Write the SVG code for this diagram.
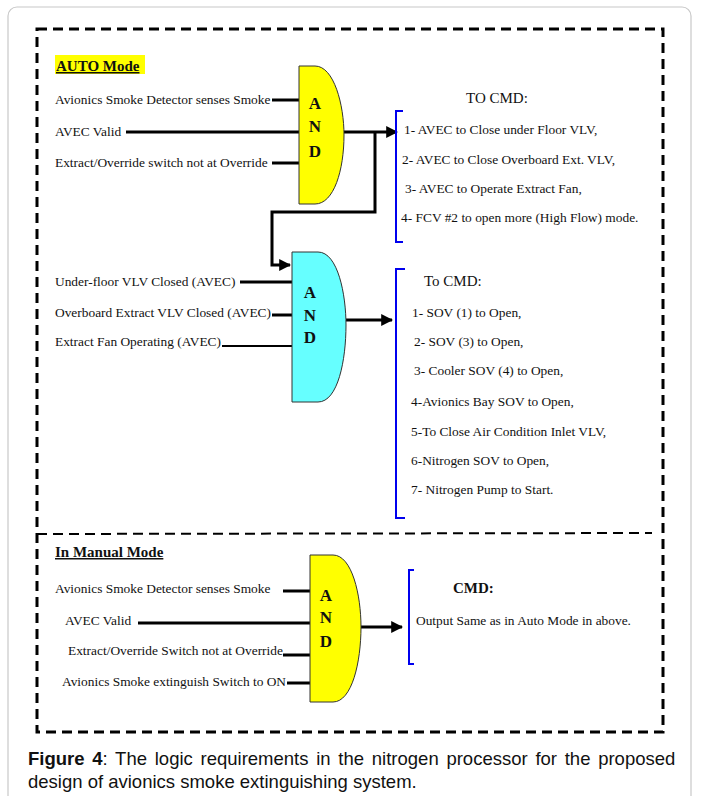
<svg xmlns="http://www.w3.org/2000/svg" width="702" height="796" viewBox="0 0 702 796">
<defs>
<style>
.t{font-family:"Liberation Serif","Times New Roman",serif;font-size:13.4px;fill:#111}
.h{font-family:"Liberation Serif","Times New Roman",serif;font-size:15px;font-weight:bold;fill:#111;text-decoration:underline}
.c{font-family:"Liberation Serif","Times New Roman",serif;font-size:15px;fill:#111}
.g{font-family:"Liberation Serif","Times New Roman",serif;font-size:17px;font-weight:bold;fill:#111;text-anchor:middle}
.w{stroke:#000;stroke-width:3;fill:none}
.w2{stroke:#000;stroke-width:2;fill:none}
.br{stroke:#0000ee;stroke-width:2;fill:none}
.gate{stroke:#333;stroke-width:1}
.cap{font-family:"Liberation Sans",Arial,sans-serif;font-size:18.5px;fill:#111}
</style>
<marker id="ah" viewBox="0 0 10 10" refX="9" refY="5" markerWidth="4" markerHeight="4" orient="auto" markerUnits="strokeWidth">
<path d="M0,0 L10,5 L0,10 Z" fill="#000"/>
</marker>
</defs>
<rect x="0" y="0" width="702" height="796" fill="#fff"/>
<rect x="8" y="7" width="683" height="805" rx="9" fill="none" stroke="#c8c8c8" stroke-width="1.2"/>
<g id="frame">
<rect x="37" y="29" width="626" height="703" fill="none" stroke="#000" stroke-width="3" stroke-dasharray="10,6"/>
<line x1="37" y1="534" x2="652" y2="533" stroke="#000" stroke-width="2" stroke-dasharray="10,6"/>
</g>
<g id="auto-title">
<rect x="55" y="55" width="90" height="19" fill="#ffff00"/>
<text class="h" x="56" y="71">AUTO Mode</text>
</g>
<g id="connectors">
<line class="w" x1="272" y1="100" x2="299" y2="100"/>
<line class="w" x1="126" y1="132" x2="299" y2="132"/>
<line class="w" x1="272" y1="163" x2="299" y2="163"/>
<line class="w" x1="344" y1="132" x2="397" y2="132" marker-end="url(#ah)"/>
<polyline class="w" points="375,132 375,212 272,212 272,265 290,265" marker-end="url(#ah)"/>
<line class="w" x1="240" y1="282" x2="292" y2="282"/>
<line class="w" x1="272" y1="315" x2="292" y2="315"/>
<line class="w2" x1="222" y1="346" x2="292" y2="346"/>
<line class="w" x1="346" y1="320" x2="392" y2="320" marker-end="url(#ah)"/>
<line class="w" x1="283" y1="591" x2="310" y2="591"/>
<line class="w" x1="138" y1="623" x2="310" y2="623"/>
<line class="w" x1="283" y1="655" x2="310" y2="655"/>
<line class="w" x1="287" y1="683" x2="310" y2="683"/>
<line class="w" x1="361" y1="627" x2="402" y2="627" marker-end="url(#ah)"/>
</g>
<g id="auto-inputs">
<text class="t" x="55" y="104">Avionics Smoke Detector senses Smoke</text>
<text class="t" x="55" y="136">AVEC Valid</text>
<text class="t" x="55" y="167">Extract/Override switch not at Override</text>
</g>
<g id="and1">
<path class="gate" d="M299,66 H315 C334,66 344,105 344,135 C344,170 334,204 315,204 H299 Z" fill="#ffff00"/>
<text class="g" x="315" y="109">A</text>
<text class="g" x="315" y="132">N</text>
<text class="g" x="315" y="157">D</text>
</g>
<g id="cmd1">
<path class="br" d="M403,111 H396 V242 H403"/>
<text class="c" x="466" y="103">TO CMD:</text>
<text class="t" x="404" y="134">1- AVEC to Close under Floor VLV,</text>
<text class="t" x="402" y="164">2- AVEC to Close Overboard Ext. VLV,</text>
<text class="t" x="405" y="193">3- AVEC to Operate Extract Fan,</text>
<text class="t" x="401" y="222">4- FCV #2 to open more (High Flow) mode.</text>
</g>
<g id="auto-inputs2">
<text class="t" x="55" y="286">Under-floor VLV Closed (AVEC)</text>
<text class="t" x="55" y="317">Overboard Extract VLV Closed (AVEC)</text>
<text class="t" x="55" y="346">Extract Fan Operating (AVEC)</text>
</g>
<g id="and2">
<path class="gate" d="M292,252 H318 C338,252 346,295 346,325 C346,360 338,402 318,402 H292 Z" fill="#66ffff"/>
<text class="g" x="310" y="298">A</text>
<text class="g" x="310" y="321">N</text>
<text class="g" x="310" y="343">D</text>
</g>
<g id="cmd2">
<path class="br" d="M405,269 H396 V518 H405"/>
<text class="c" x="424" y="286">To CMD:</text>
<text class="t" x="412" y="317">1- SOV (1) to Open,</text>
<text class="t" x="414" y="346">2- SOV (3) to Open,</text>
<text class="t" x="414" y="375">3- Cooler SOV (4) to Open,</text>
<text class="t" x="411" y="406">4-Avionics Bay SOV to Open,</text>
<text class="t" x="411" y="436">5-To Close Air Condition Inlet VLV,</text>
<text class="t" x="411" y="465">6-Nitrogen SOV to Open,</text>
<text class="t" x="411" y="494">7- Nitrogen Pump to Start.</text>
</g>
<g id="manual-title">
<text class="h" x="55" y="557">In Manual Mode</text>
</g>
<g id="manual-inputs">
<text class="t" x="55" y="593">Avionics Smoke Detector senses Smoke</text>
<text class="t" x="65" y="625">AVEC Valid</text>
<text class="t" x="68" y="655">Extract/Override Switch not at Override</text>
<text class="t" x="62" y="686">Avionics Smoke extinguish Switch to ON</text>
</g>
<g id="and3">
<path class="gate" d="M310,555 H333 C352,555 361,595 361,627 C361,662 352,702 333,702 H310 Z" fill="#ffff00"/>
<text class="g" x="326" y="601">A</text>
<text class="g" x="326" y="623">N</text>
<text class="g" x="326" y="647">D</text>
</g>
<g id="cmd3">
<path class="br" d="M414,570 H409 V664 H414"/>
<text class="c" x="453" y="593" font-weight="bold">CMD:</text>
<text class="t" x="416" y="625">Output Same as in Auto Mode in above.</text>
</g>
<g id="caption">
<text class="cap" x="28" y="765" word-spacing="2.6"><tspan font-weight="bold">Figure 4</tspan>: The logic requirements in the nitrogen processor for the proposed</text>
<text class="cap" x="28" y="788">design of avionics smoke extinguishing system.</text>
</g>
</svg>
